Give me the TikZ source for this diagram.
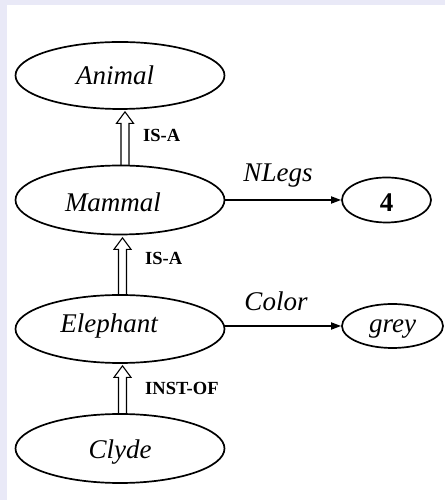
\documentclass[tikz,border=0pt]{standalone}
\usepackage{fontspec}
\setmainfont{Liberation Serif}
\usetikzlibrary{shapes.geometric,arrows.meta,calc}
\definecolor{lav}{RGB}{233,233,247}
\newcommand\hollowarrow[2]{%
  \draw[hollowline] ($(#1)+(-4,0)$) -- ($(#2)+(-4,-11.5)$) -- ($(#2)+(-8.5,-11.5)$) -- (#2)
    -- ($(#2)+(8.5,-11.5)$) -- ($(#2)+(4,-11.5)$) -- ($(#1)+(4,0)$);}
\begin{document}
\begin{tikzpicture}[x=1pt,y=1pt,
  concept/.style={ellipse,draw,line width=1.7pt,inner sep=0pt,
    font=\fontsize{27}{30}\selectfont\itshape,text depth=0pt},
  rel/.style={draw,line width=1.7pt,-{Triangle[length=10pt,width=7pt]}},
  hollowline/.style={draw,line width=1.1pt,line join=miter},
  relname/.style={font=\fontsize{27}{30}\selectfont\itshape,inner sep=0pt,anchor=base},
  linkname/.style={font=\fontsize{18.5}{20}\selectfont\bfseries,inner sep=0pt,anchor=base west}]
\fill[lav] (0,0) rectangle (445,500);
\fill[white] (7,0) rectangle (445,495);
\useasboundingbox (0,0) rectangle (445,500);

\node[concept,minimum width=209pt,minimum height=67pt,text height=19pt] (animal) at (120,424.5) {Animal\kern10pt};
\node[concept,minimum width=209pt,minimum height=69pt,text height=23pt] (mammal) at (120,300) {Mammal\kern14pt};
\node[concept,minimum width=209pt,minimum height=68pt,text height=8pt] (elephant) at (120,171) {Elephant\kern22pt};
\node[concept,minimum width=209pt,minimum height=69pt,text height=21pt] (clyde) at (120,51.5) {Clyde};
\node[concept,minimum width=89pt,minimum height=45pt,text height=23pt,font=\fontsize{27}{30}\selectfont\bfseries] (four) at (386.5,300) {4};
\node[concept,minimum width=101pt,minimum height=44pt,text height=14pt] (grey) at (392.5,174) {grey};

\draw[rel] (mammal.east) -- (four.west);
\draw[rel] (elephant.east |- grey.west) -- (grey.west);
\node[relname] (nlegs) at (278,318) {NLegs};
\node[relname] (color) at (276,189) {Color};

\coordinate (s1) at ($(mammal.north)+(5,-1)$);
\coordinate (t1) at ($(animal.south)+(5,-2)$);
\coordinate (s2) at ($(elephant.north)+(2.5,0)$);
\coordinate (t2) at ($(mammal.south)+(2.5,-2.5)$);
\coordinate (s3) at ($(clyde.north)+(2.5,0)$);
\coordinate (t3) at ($(elephant.south)+(2.5,-2)$);
\hollowarrow{s1}{t1}
\hollowarrow{s2}{t2}
\hollowarrow{s3}{t3}

\node[linkname] (isa1) at (143,358) {IS-A};
\node[linkname] (isa2) at (145,235) {IS-A};
\node[linkname] (instof) at (145,105) {INST-OF};
\end{tikzpicture}
\end{document}
